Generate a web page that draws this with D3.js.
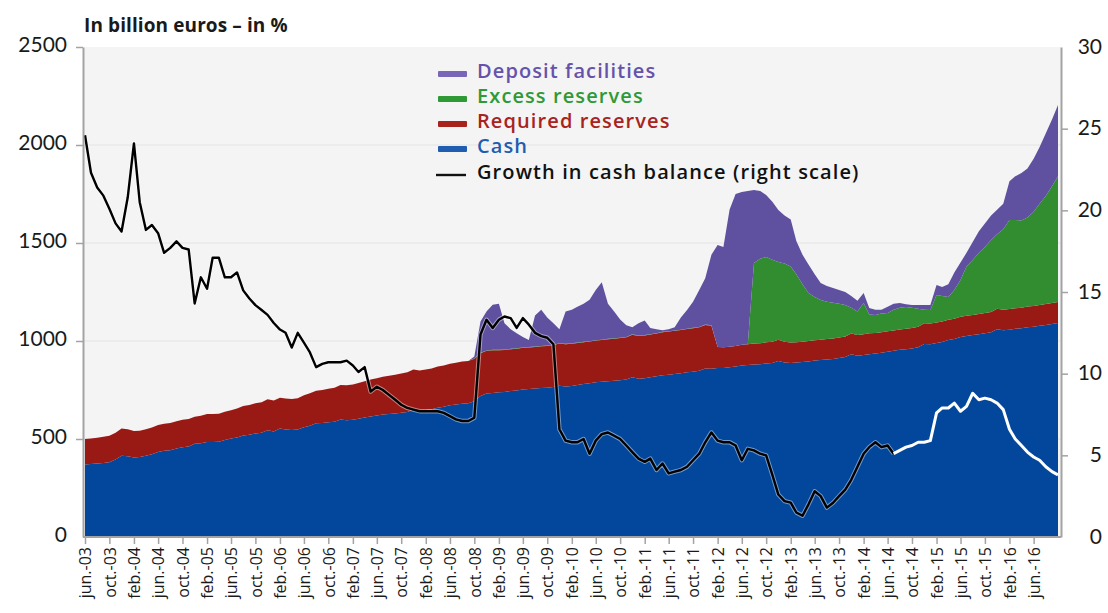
<!DOCTYPE html>
<html><head><meta charset="utf-8">
<script src="https://cdn.jsdelivr.net/npm/d3@7"></script>
<style>
body{margin:0;background:#fff}
svg{display:block}
text{font-family:Lato,"Open Sans",sans-serif}
</style>
</head><body>
<svg id="c" width="1108" height="613"></svg>
<script>
// ---------- DATA (monthly, jun-03 .. oct-16), billion euros ----------
const months = d3.timeMonth.range(new Date(2003,5,1), new Date(2016,10,1)); // 161 months

const tickLabels = ["jun.-03","oct.-03",
 "feb.-04","jun.-04","oct.-04","feb.-05","jun.-05","oct.-05","feb.-06","jun.-06","oct.-06",
 "feb.-07","jun.-07","oct.-07","feb.-08","jun.-08","oct.-08","feb.-09","jun.-09","oct.-09",
 "feb.-10","jun.-10","oct.-10","feb.-11","jun.-11","oct.-11","feb.-12","jun.-12","oct.-12",
 "feb.-13","jun.-13","oct.-13","feb.-14","jun.-14","oct.-14","feb.-15","jun.-15","oct.-15",
 "feb.-16","jun.-16"];

const cash = [370,372,375,378,382,395,415,412,405,408,
 415,422,434,440,443,452,458,462,476,478,
 485,485,486,495,502,508,518,522,528,532,
 545,538,554,548,546,548,560,568,580,582,
 585,588,600,596,598,603,610,615,620,625,
 628,630,634,638,650,645,648,652,660,665,
 672,676,680,683,692,720,732,735,738,740,
 745,748,752,755,758,760,762,765,772,768,
 770,775,780,785,790,792,795,797,800,803,
 815,808,810,815,820,825,828,832,836,840,
 843,848,860,858,862,862,866,870,875,878,
 880,882,885,888,898,890,888,890,893,896,
 900,903,905,908,913,918,932,925,928,932,
 936,940,945,950,955,958,962,968,985,984,
 990,995,1005,1010,1020,1025,1030,1035,1040,1045,
 1060,1055,1058,1062,1065,1070,1073,1078,1082,1087,
 1092];

const requiredReserves = [130,130,132,133,135,137,138,138,136,134,
 135,137,137,138,138,139,140,140,138,141,
 142,143,143,144,145,147,150,152,154,156,
 158,158,156,158,158,160,163,165,166,168,
 172,173,175,178,180,183,185,188,190,193,
 195,198,200,202,205,205,207,208,210,210,
 212,213,215,215,217,218,218,218,215,214,
 213,213,213,212,212,213,213,214,215,216,
 216,215,214,212,212,213,214,215,215,216,
 217,218,218,218,218,220,220,220,220,221,
 222,222,222,220,107,106,105,105,106,106,
 107,107,108,108,108,106,104,103,103,104,
 104,104,105,105,105,105,106,106,107,107,
 105,105,105,104,104,104,104,105,105,105,
 104,104,104,104,104,104,103,103,103,103,
 104,104,105,105,105,106,106,106,107,107,
 107];

const excessReserves = [0,0,0,0,0,0,0,0,0,0,
 0,0,0,0,0,0,0,0,0,0,
 0,0,0,0,0,0,0,0,0,0,
 0,0,0,0,0,0,0,0,0,0,
 0,0,0,0,0,0,0,0,0,0,
 0,0,0,0,0,0,0,0,0,0,
 0,0,0,0,2,2,2,2,2,2,
 2,2,2,2,2,2,2,2,2,2,
 2,2,2,2,2,2,2,2,2,2,
 2,2,2,2,2,2,2,2,2,2,
 2,2,2,2,0,0,0,0,0,0,
 411,431,436,419,397,399,388,347,294,245,
 221,202,190,182,172,161,132,119,159,96,
 92,95,93,106,111,111,104,92,70,69,
 141,131,115,146,187,251,280,312,337,367,
 381,411,454,450,445,454,481,516,551,596,
 641];

const depositFacilities = [0,0,0,0,0,0,0,0,0,0,
 0,0,0,0,0,0,0,0,0,0,
 0,0,0,0,0,0,0,0,0,0,
 0,0,0,0,0,0,0,0,0,0,
 0,0,0,0,0,0,0,0,0,0,
 0,0,0,0,0,0,0,0,0,0,
 0,0,0,0,10,160,198,230,235,134,
 100,77,53,36,158,185,143,109,71,164,
 172,183,194,211,256,293,179,136,93,59,
 36,62,75,31,20,8,10,16,62,95,
 133,188,236,360,521,512,700,775,779,781,
 372,345,316,295,265,245,240,170,150,145,
 115,87,80,75,70,66,60,55,51,33,
 27,20,32,30,24,15,14,19,24,26,
 51,46,66,90,89,70,92,110,120,125,
 125,130,198,223,242,250,270,290,320,340,
 364];

// growth in cash balance, % (right scale)
const cashGrowth = [24.6,22.3,21.4,20.9,20.1,19.2,18.7,20.8,24.1,20.5,
 18.8,19.1,18.6,17.4,17.7,18.1,17.7,17.6,14.3,15.9,
 15.2,17.1,17.1,15.9,15.9,16.2,15.1,14.6,14.2,13.9,
 13.6,13.1,12.7,12.5,11.6,12.5,11.9,11.3,10.4,10.6,
 10.7,10.7,10.7,10.8,10.5,10.1,10.4,8.9,9.2,9.0,
 8.7,8.4,8.1,7.9,7.8,7.7,7.7,7.7,7.7,7.6,
 7.4,7.2,7.1,7.1,7.3,12.4,13.3,12.8,13.3,13.5,
 13.4,12.8,13.4,13.0,12.5,12.3,12.2,11.8,6.6,5.9,
 5.8,5.8,6.0,5.1,5.9,6.3,6.4,6.2,6.0,5.6,
 5.2,4.8,4.6,4.8,4.1,4.5,3.9,4.0,4.1,4.3,
 4.7,5.1,5.8,6.4,5.9,5.8,5.8,5.6,4.7,5.4,
 5.3,5.1,5.0,3.8,2.6,2.2,2.1,1.5,1.3,2.0,
 2.8,2.5,1.8,2.1,2.5,2.9,3.5,4.3,5.1,5.5,
 5.8,5.5,5.6,5.1,5.3,5.5,5.6,5.8,5.8,5.9,
 7.6,7.9,7.9,8.2,7.7,8.0,8.8,8.4,8.5,8.4,
 8.2,7.8,6.6,6.0,5.6,5.2,4.9,4.7,4.3,4.0,
 3.8];
const growthBlackLastIndex = 133; // black up to jul-14, white afterwards

const leftTicks = [0,500,1000,1500,2000,2500];
const rightTicks = [0,5,10,15,20,25,30];

const seriesKeys = ["cash","required","excess","deposit"];
const seriesColors = {cash:"#03479c", required:"#991a15", excess:"#318d30", deposit:"#5f50a0"};

const legendItems = [
 {label:"Deposit facilities", swatch:"#7a66b8", text:"#6652aa", type:"bar"},
 {label:"Excess reserves", swatch:"#2f9a35", text:"#2f9a35", type:"bar"},
 {label:"Required reserves", swatch:"#a8231c", text:"#a8231c", type:"bar"},
 {label:"Cash", swatch:"#1f5db0", text:"#1f5db0", type:"bar"},
 {label:"Growth in cash balance (right scale)", swatch:"#111", text:"#111", type:"line"}
];

// ---------- LAYOUT ----------
const svg = d3.select("#c");
const plot = {left:83, right:1061, top:47, bottom:537};

const x = d3.scaleTime().domain([months[0], months[months.length-1]]).range([85, 1058]);
const yL = d3.scaleLinear().domain([0,2500]).range([plot.bottom, plot.top]);
const yR = d3.scaleLinear().domain([0,30]).range([plot.bottom, plot.top]);

// plot background
svg.append("rect").attr("x",plot.left).attr("y",plot.top)
  .attr("width",plot.right-plot.left).attr("height",plot.bottom-plot.top).attr("fill","#f4f4f4");

// grid
svg.append("g").selectAll("line").data(leftTicks.filter(d=>d>0 && d<2500)).join("line")
  .attr("x1",plot.left).attr("x2",plot.right).attr("y1",d=>yL(d)).attr("y2",d=>yL(d))
  .attr("stroke","#e3e3e3").attr("stroke-width",1.2);

// stacked areas
const table = months.map((d,i)=>({date:d, cash:cash[i], required:requiredReserves[i], excess:excessReserves[i], deposit:depositFacilities[i]}));
const stacked = d3.stack().keys(seriesKeys)(table);
const area = d3.area().x(d=>x(d.data.date)).y0(d=>yL(d[0])).y1(d=>yL(d[1]));
svg.append("g").selectAll("path").data(stacked).join("path")
  .attr("d",area).attr("fill",d=>seriesColors[d.key]);

// growth line
const pts = months.map((d,i)=>({date:d, v:cashGrowth[i], i}));
const line = d3.line().x(d=>x(d.date)).y(d=>yR(d.v));
const blackPts = pts.filter(d=>d.i<=growthBlackLastIndex);
const whitePts = pts.filter(d=>d.i>=growthBlackLastIndex);
svg.append("path").attr("d",line(blackPts)).attr("fill","none")
  .attr("stroke","#ffffff").attr("stroke-opacity",0.45).attr("stroke-width",4.4).attr("stroke-linejoin","round");
svg.append("path").attr("d",line(blackPts)).attr("fill","none")
  .attr("stroke","#000").attr("stroke-width",2.4).attr("stroke-linejoin","round");
svg.append("path").attr("d",line(whitePts)).attr("fill","none")
  .attr("stroke","#fff").attr("stroke-width",3).attr("stroke-linejoin","round");

// axes
const axisColor = "#a3a3a3";
const gl = svg.append("g").attr("transform",`translate(${plot.left},0)`)
  .call(d3.axisLeft(yL).tickValues(leftTicks).tickSize(7).tickSizeOuter(0).tickPadding(9).tickFormat(d3.format("d")));
const gr = svg.append("g").attr("transform",`translate(${plot.right},0)`)
  .call(d3.axisRight(yR).tickValues(rightTicks).tickSize(7).tickSizeOuter(0).tickFormat(d3.format("d")));
const tickDates = months.filter((d,i)=>i%4===0).slice(0, tickLabels.length);
const gb = svg.append("g").attr("transform",`translate(0,${plot.bottom})`)
  .call(d3.axisBottom(x).tickValues(tickDates).tickSize(7).tickSizeOuter(0).tickFormat((d,i)=>tickLabels[i]));

[gl,gr,gb].forEach(g=>{
  g.select(".domain").attr("stroke",axisColor).attr("stroke-width",2);
  g.selectAll(".tick line").attr("stroke",axisColor).attr("stroke-width",1.5);
  g.selectAll("text").attr("fill","#1a1a1a");
});
gb.select(".domain").remove();
svg.append("line").attr("x1",plot.left).attr("x2",plot.right).attr("y1",plot.bottom).attr("y2",plot.bottom)
  .attr("stroke",axisColor).attr("stroke-width",2);
gl.selectAll(".tick line").filter(d=>d===0).remove();
gl.selectAll("text").style("font-size","21px").attr("dy","0.22em");
gr.selectAll("text").style("font-size","21px").attr("text-anchor","end").attr("x",41).attr("dy","0.3em");
gr.selectAll(".tick line").filter(d=>d===0||d===30).remove();
gb.selectAll("text").style("font-family","'Open Sans',sans-serif").style("font-size","16px").attr("transform","rotate(-90)")
  .attr("x",-10).attr("y",0).attr("dy","0.36em").attr("text-anchor","end");

// title
svg.append("text").attr("x",84).attr("y",32).text("In billion euros – in %")
  .style("font-family","'Open Sans',sans-serif").style("font-size","19px").style("font-weight","700")
  .style("letter-spacing","0.1px").attr("fill","#1a1a1a");

// legend
const lg = svg.append("g");
legendItems.forEach((it,i)=>{
  const yy = 74 + i*25 + (i===4?1:0);
  if(it.type==="bar"){
    lg.append("rect").attr("x",438).attr("y",yy-3).attr("width",29).attr("height",6).attr("rx",1).attr("fill",it.swatch);
  } else {
    lg.append("line").attr("x1",436).attr("x2",466).attr("y1",yy).attr("y2",yy).attr("stroke",it.swatch).attr("stroke-width",2.4);
  }
  lg.append("text").attr("x",477).attr("y",yy+4).text(it.label)
    .style("font-family","'Open Sans',sans-serif")
    .style("font-size","20px").style("font-weight","600").style("letter-spacing","1.1px").attr("fill",it.text);
});
</script>
</body></html>
